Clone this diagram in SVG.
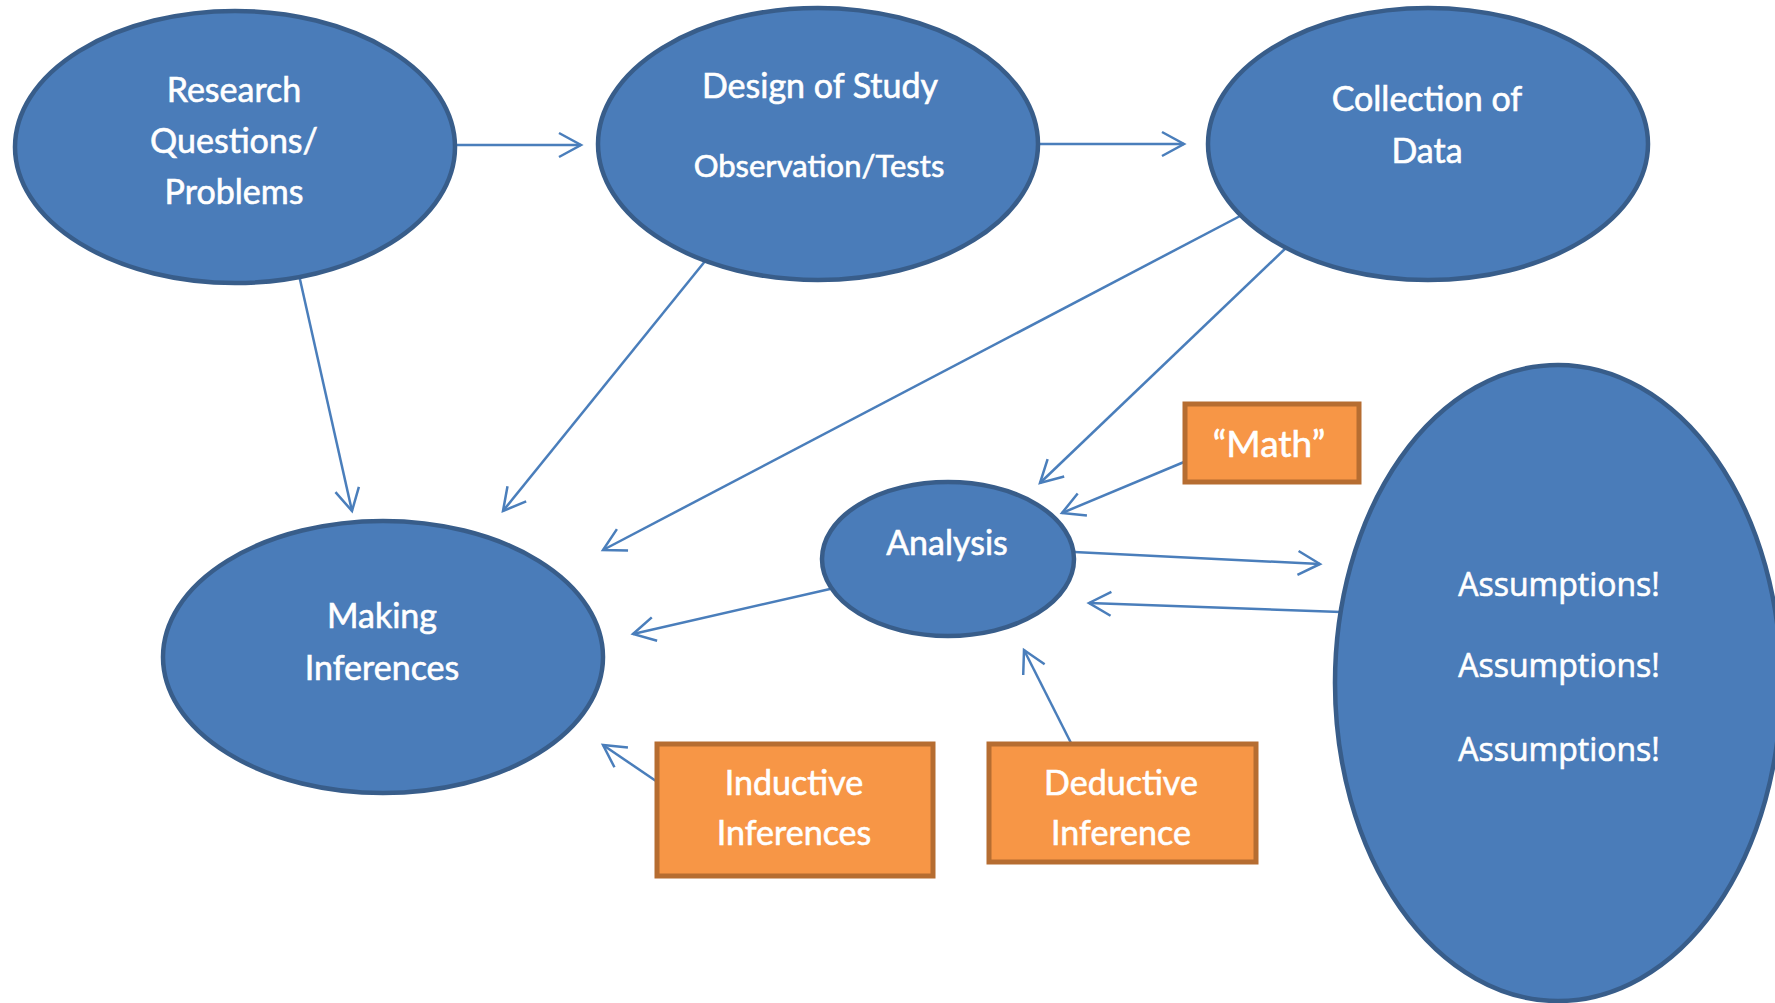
<svg xmlns="http://www.w3.org/2000/svg" width="1775" height="1003" viewBox="0 0 1775 1003">
  <style>
    .oval { fill: #4a7cb9; stroke: #385d8a; stroke-width: 4.5; }
    .box { fill: #f79646; stroke: #b66d31; stroke-width: 5; }
    .lbl { fill: #ffffff; stroke: #ffffff; stroke-width: 0.6; font-family: Lato, "Liberation Sans", sans-serif; font-size: 34px; text-anchor: middle; }
    .small { font-size: 31px; }
    .math { font-size: 37px; }
    .wide { font-family: "Open Sans", "DejaVu Sans", sans-serif; font-size: 32px; }
    .link { fill: none; stroke: #4a7ebb; stroke-width: 2.5; marker-end: url(#open); }
  </style>
  <defs>
    <marker id="open" markerUnits="userSpaceOnUse" markerWidth="40" markerHeight="40" viewBox="-30 -20 40 40" refX="0" refY="0" orient="auto" overflow="visible">
      <path d="M-22,-12 L0,0 L-22,12" fill="none" stroke="#4a7ebb" stroke-width="2.5"/>
    </marker>
  </defs>
  <rect width="1775" height="1003" fill="#ffffff"/>

  <g id="connectors">
    <line class="link" x1="455" y1="145" x2="581" y2="145"/>
    <line class="link" x1="1039" y1="144" x2="1184" y2="144"/>
    <line class="link" x1="299" y1="275" x2="352" y2="511"/>
    <line class="link" x1="706" y1="260" x2="503" y2="511"/>
    <line class="link" x1="1242" y1="215" x2="603" y2="550"/>
    <line class="link" x1="1288" y1="246" x2="1040" y2="483"/>
    <line class="link" x1="1184" y1="462" x2="1062" y2="513"/>
    <line class="link" x1="1074" y1="552" x2="1320" y2="564"/>
    <line class="link" x1="1341" y1="612" x2="1089" y2="603"/>
    <line class="link" x1="830" y1="589" x2="633" y2="634"/>
    <line class="link" x1="656" y1="781" x2="603" y2="745"/>
    <line class="link" x1="1071" y1="743" x2="1024" y2="650"/>
  </g>

  <g id="research">
    <ellipse class="oval" cx="235" cy="147" rx="220" ry="136"/>
    <text class="lbl" x="234" y="102">Research</text>
    <text class="lbl" x="234" y="153">Questions/</text>
    <text class="lbl" x="234" y="204">Problems</text>
  </g>

  <g id="design">
    <ellipse class="oval" cx="818" cy="144" rx="220" ry="136"/>
    <text class="lbl" x="820" y="98">Design of Study</text>
    <text class="lbl small" x="819" y="177">Observation/Tests</text>
  </g>

  <g id="collection">
    <ellipse class="oval" cx="1428" cy="144" rx="220" ry="136"/>
    <text class="lbl" x="1427" y="111">Collection of</text>
    <text class="lbl" x="1427" y="163">Data</text>
  </g>

  <g id="making-inferences">
    <ellipse class="oval" cx="383" cy="657" rx="220" ry="136"/>
    <text class="lbl" x="382" y="628">Making</text>
    <text class="lbl" x="382" y="680">Inferences</text>
  </g>

  <g id="analysis">
    <ellipse class="oval" cx="948" cy="559" rx="126" ry="77"/>
    <text class="lbl" x="947" y="555">Analysis</text>
  </g>

  <g id="assumptions">
    <ellipse class="oval" cx="1558" cy="683" rx="223" ry="318"/>
    <text class="lbl wide" x="1559" y="596">Assumptions!</text>
    <text class="lbl wide" x="1559" y="677">Assumptions!</text>
    <text class="lbl wide" x="1559" y="761">Assumptions!</text>
  </g>

  <g id="math">
    <rect class="box" x="1185" y="404" width="174" height="78"/>
    <text class="lbl math" x="1269" y="457">“Math”</text>
  </g>

  <g id="inductive">
    <rect class="box" x="657" y="744" width="276" height="132"/>
    <text class="lbl" x="794" y="795">Inductive</text>
    <text class="lbl" x="794" y="845">Inferences</text>
  </g>

  <g id="deductive">
    <rect class="box" x="989" y="744" width="267" height="118"/>
    <text class="lbl" x="1121" y="795">Deductive</text>
    <text class="lbl" x="1121" y="845">Inference</text>
  </g>
</svg>
